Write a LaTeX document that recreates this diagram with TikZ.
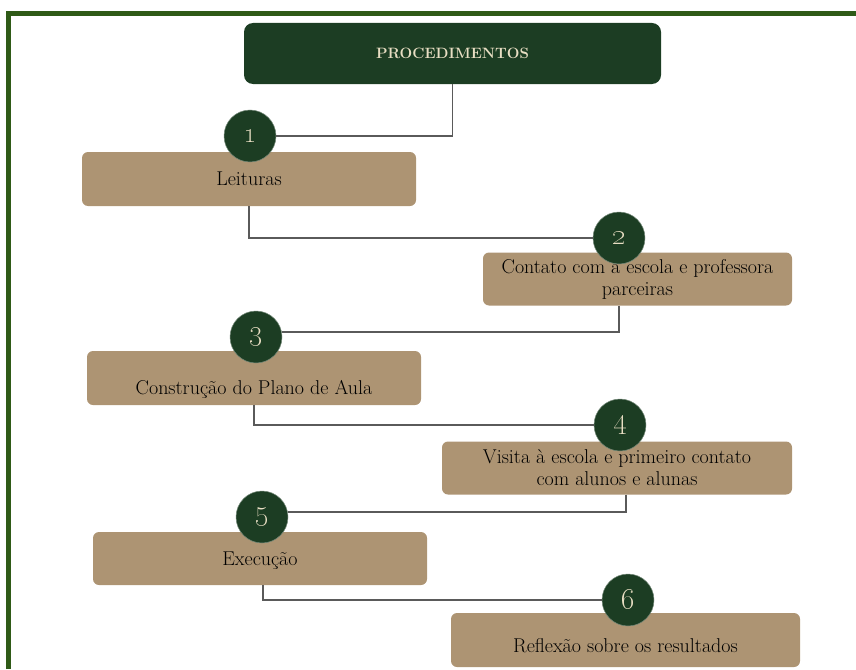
\documentclass[tikz,border=0pt]{standalone}
\usepackage{tikz}
\usetikzlibrary{positioning}
\definecolor{FrameGreen}{HTML}{2F5A17}
\definecolor{DeepGreen}{HTML}{1C3D23}
\definecolor{Sand}{HTML}{AD9473}
\definecolor{Cream}{HTML}{E8DEC3}
\definecolor{LinkGray}{HTML}{5A5A5A}

\tikzset{
  stagebox/.style={fill=Sand, rounded corners=6pt, align=center, text=black, inner sep=0pt,
    font=\fontsize{20}{22}\selectfont},
  baseline at/.style={text height=#1, text depth=4pt},
  stepdot/.style={circle, fill=DeepGreen, draw=DeepGreen!60!white, line width=0.5pt,
    minimum size=52pt, inner sep=0pt, text=Cream, font=\fontsize{30}{30}\selectfont},
  link/.style={draw=LinkGray, line width=1.1pt},
}

\begin{document}
\begin{tikzpicture}[x=1pt, y=-1pt]
    \useasboundingbox (0,0) rectangle (856,669);

    % outer frame (cut at right and bottom)
    \draw[FrameGreen, line width=5pt] (8,669) -- (8,14) -- (856,14);

    % title
    \node[fill=DeepGreen, rounded corners=9pt, minimum width=417pt, minimum height=61pt,
          text=Cream, font=\fontsize{15}{17}\selectfont\bfseries] (title) at (452.5,53.5) {PROCEDIMENTOS};

    % stages
    \node[stagebox, minimum width=334pt, minimum height=54pt, baseline at=16pt] (leit) at (249,179) {Leituras};
    \node[stagebox, minimum width=309pt, minimum height=53pt] (cont) at (637.5,279) {Contato com a escola e professora\\parceiras};
    \node[stagebox, minimum width=334pt, minimum height=54pt, baseline at=36pt] (plano) at (254,378) {Construção do Plano de Aula};
    \node[stagebox, minimum width=350pt, minimum height=53pt] (visita) at (617,468) {Visita à escola e primeiro contato\\com alunos e alunas};
    \node[stagebox, minimum width=334pt, minimum height=53pt, baseline at=17pt] (exec) at (260,558.5) {Execução};
    \node[stagebox, minimum width=349pt, minimum height=54pt, baseline at=28pt] (refl) at (625.5,640) {Reflexão sobre os resultados};

    % numbered dots
    \node[stepdot] (n1) at (250,136) {\oldstylenums{1}};
    \node[stepdot] (n2) at (619,238) {\oldstylenums{2}};
    \node[stepdot] (n3) at (256,337) {\oldstylenums{3}};
    \node[stepdot] (n4) at (620,425) {\oldstylenums{4}};
    \node[stepdot] (n5) at (262,517) {\oldstylenums{5}};
    \node[stepdot] (n6) at (628,600) {\oldstylenums{6}};

    % connectors
    \draw[link] (title.south) |- (n1);
    \draw[link] (leit.south) |- (n2);
    \draw[link] (cont.south -| n2) |- ([yshift=5pt]n3.east);
    \draw[link] (plano.south) |- (n4);
    \draw[link] ([xshift=9pt]visita.south) |- ([yshift=5pt]n5.east);
    \draw[link] ([xshift=3pt]exec.south) |- (n6);
\end{tikzpicture}
\end{document}
